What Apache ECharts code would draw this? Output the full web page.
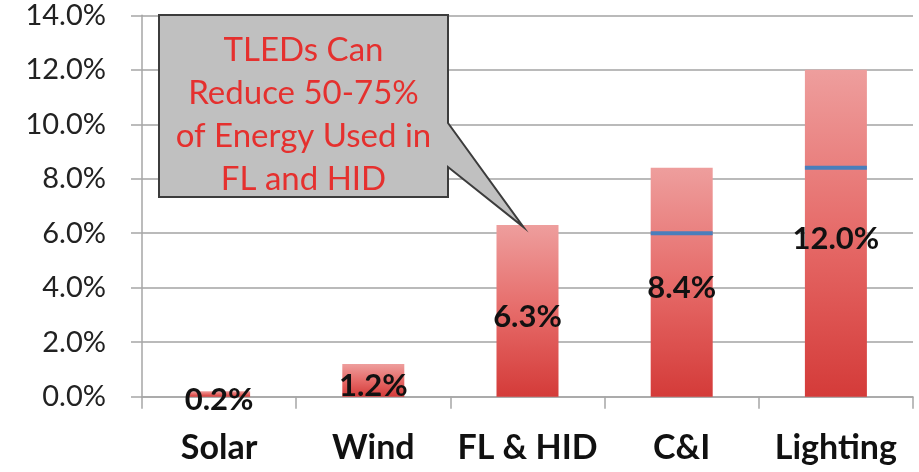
<!DOCTYPE html>
<html>
<head>
<meta charset="utf-8">
<script src="https://cdn.jsdelivr.net/npm/echarts@6/dist/echarts.min.js"></script>
<style>
  html, body { margin: 0; padding: 0; background: #fff; }
  #chart { width: 919px; height: 472px; }
</style>
</head>
<body>
<div id="chart"></div>
<script>
// Energy savings share by segment (percent)
const categories = ['Solar', 'Wind', 'FL & HID', 'C&I', 'Lighting'];
const savings = [0.2, 1.2, 6.3, 8.4, 12.0];
// Reference level marked on the later bars (previous step's value)
const markers = [null, null, null, 6.0, 8.4];
const calloutLines = ['TLEDs Can', 'Reduce 50-75%', 'of Energy Used in', 'FL and HID'];

const FONT = 'Lato, "Open Sans", sans-serif';
const chart = echarts.init(document.getElementById('chart'), null, { renderer: 'canvas' });

const barGradient = new echarts.graphic.LinearGradient(0, 0, 0, 1, [
  { offset: 0, color: '#ee9e9d' },
  { offset: 0.5, color: '#e66b69' },
  { offset: 1, color: '#d43b39' }
]);

chart.setOption({
  animation: false,
  grid: { left: 142, right: 6, top: 15.3, bottom: 75.3, containLabel: false },
  xAxis: {
    type: 'category',
    data: categories,
    boundaryGap: true,
    axisLine: { show: true, lineStyle: { color: '#a6a6a6', width: 1.5 } },
    axisTick: { show: true, length: 12, lineStyle: { color: '#a6a6a6', width: 1.5 } },
    axisLabel: {
      interval: 0,
      fontFamily: FONT, fontSize: 34, fontWeight: 'bold', color: '#111', margin: 34
    },
    splitLine: { show: false }
  },
  yAxis: {
    type: 'value',
    min: 0,
    max: 14,
    interval: 2,
    axisLine: { show: true, lineStyle: { color: '#a6a6a6', width: 1.5 } },
    axisTick: { show: true, length: 11, lineStyle: { color: '#a6a6a6', width: 1.5 } },
    axisLabel: {
      fontFamily: FONT, fontSize: 29, color: '#222', margin: 36,
      formatter: v => v.toFixed(1) + '%'
    },
    splitLine: { show: true, lineStyle: { color: '#bababa', width: 2 } }
  },
  series: [
    {
      type: 'bar',
      data: savings,
      barWidth: 62,
      itemStyle: { color: barGradient },
      label: {
        show: true,
        position: 'inside',
        offset: [0, 6],
        fontFamily: FONT, fontSize: 31, fontWeight: 'bold', color: '#111',
        formatter: p => p.value.toFixed(1) + '%'
      },
      z: 2
    },
    {
      type: 'scatter',
      data: markers,
      symbol: 'rect',
      symbolSize: [62, 4],
      itemStyle: { color: '#4a7ebb', opacity: 1 },
      z: 3
    }
  ]
});

// Callout box pointing at the top of the FL & HID bar
const tip = chart.convertToPixel({ gridIndex: 0 }, [2, savings[2]]);
const box = { x0: 159, y0: 15, x1: 448, y1: 197 };
chart.setOption({
  graphic: [
    {
      type: 'polygon',
      z: 10,
      shape: {
        points: [
          [box.x0, box.y0], [box.x1, box.y0], [box.x1, 123],
          [tip[0] - 4, tip[1] + 2], [box.x1, 167], [box.x1, box.y1], [box.x0, box.y1]
        ]
      },
      style: { fill: '#c0c0c0', stroke: '#3c3c3c', lineWidth: 2 }
    },
    {
      type: 'text',
      z: 11,
      x: (box.x0 + box.x1) / 2,
      y: 115,
      style: {
        text: calloutLines.join('\n'),
        fill: '#e5302e',
        font: '33px ' + FONT,
        lineHeight: 43,
        align: 'center',
        verticalAlign: 'middle'
      }
    }
  ]
});
</script>
</body>
</html>
